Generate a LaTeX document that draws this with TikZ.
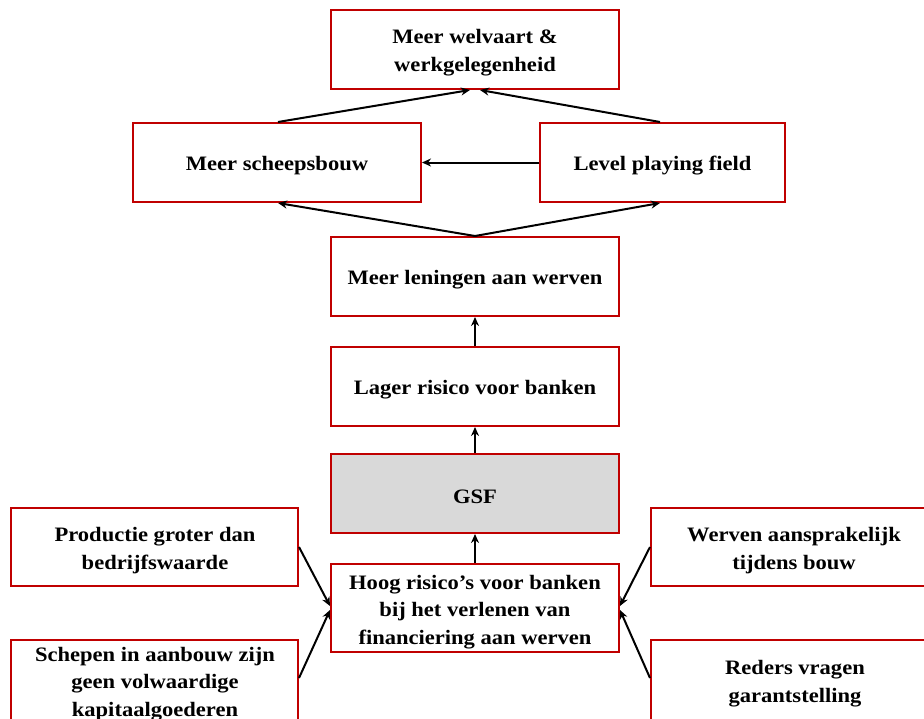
\documentclass[tikz,border=0pt]{standalone}
\usepackage{fontspec}
\setmainfont{Liberation Serif}[FakeStretch=1.1]
\usetikzlibrary{arrows.meta}
\definecolor{boxred}{HTML}{C00000}
\definecolor{boxgray}{HTML}{D9D9D9}
\begin{document}
\begin{tikzpicture}[x=1pt,y=-1pt,
  box/.style={draw=boxred,line width=2pt,fill=white,inner sep=0pt},
  txt/.style={font=\fontsize{20.5}{27.5}\selectfont\bfseries,align=center,inner sep=0pt},
  arr/.style={draw=black,line width=2pt,-{Stealth[length=9pt,width=8pt]}}]
\clip (0,0) rectangle (924,718);
\fill[white] (0,0) rectangle (924,718);
% boxes
\node[box,minimum width=288pt,minimum height=79pt] (top) at (475,49.5) {};
\node[txt] (toptxt) at (475,52.5) {Meer welvaart \&\\werkgelegenheid};
\node[box,minimum width=288pt,minimum height=79pt] (ship) at (277,162.5) {};
\node[txt] (shiptxt) at (277,165.5) {Meer scheepsbouw};
\node[box,minimum width=245pt,minimum height=79pt] (lpf) at (662.5,162.5) {};
\node[txt] (lpftxt) at (662.5,165.5) {Level playing field};
\node[box,minimum width=288pt,minimum height=79pt] (len) at (475,276.5) {};
\node[txt] (lentxt) at (475,279.5) {Meer leningen aan werven};
\node[box,minimum width=288pt,minimum height=79pt] (lag) at (475,386.5) {};
\node[txt] (lagtxt) at (475,389.5) {Lager risico voor banken};
\node[box,fill=boxgray,minimum width=288pt,minimum height=79pt] (gsf) at (475,493.5) {};
\node[txt] (gsftxt) at (475,496.5) {GSF};
\node[box,minimum width=288pt,minimum height=88pt] (hoog) at (475,608) {};
\node[txt] (hoogtxt) at (475,612) {Hoog risico’s voor banken\\bij het verlenen van\\financiering aan werven};
\node[box,minimum width=287pt,minimum height=78pt] (prod) at (154.5,547) {};
\node[txt] (prodtxt) at (155,550.5) {Productie groter dan\\bedrijfswaarde};
\node[box,minimum width=287pt,minimum height=100pt] (schep) at (154.5,690) {};
\node[txt] (scheptxt) at (155,684) {Schepen in aanbouw zijn\\geen volwaardige\\kapitaalgoederen};
\node[box,minimum width=290pt,minimum height=78pt] (werv) at (796,547) {};
\node[txt] (wervtxt) at (794,550.5) {Werven aansprakelijk\\tijdens bouw};
\node[box,minimum width=290pt,minimum height=100pt] (red) at (796,690) {};
\node[txt] (redtxt) at (795,683.5) {Reders vragen\\garantstelling};
% connectors
\coordinate (topL) at ([xshift=-5pt]top.south);
\coordinate (topR) at ([xshift=5pt]top.south);
\coordinate (shipT) at ([xshift=1pt]ship.north);
\coordinate (shipB) at ([xshift=1pt]ship.south);
\coordinate (lpfT) at ([xshift=-2.5pt]lpf.north);
\coordinate (lpfB) at ([xshift=-2.5pt]lpf.south);
\coordinate (hoogLa) at ([yshift=2pt]hoog.west);
\coordinate (hoogLb) at ([yshift=-2pt]hoog.west);
\coordinate (hoogRa) at ([yshift=2pt]hoog.east);
\coordinate (hoogRb) at ([yshift=-2pt]hoog.east);
\coordinate (schepR) at ([yshift=12pt]schep.east);
\coordinate (redL) at ([yshift=12pt]red.west);
\draw[arr] (shipT) -- (topL);
\draw[arr] (lpfT) -- (topR);
\draw[arr] (lpf.west) -- (ship.east);
\draw[arr] (len.north) -- (shipB);
\draw[arr] (len.north) -- (lpfB);
\draw[arr] (lag.north) -- (len.south);
\draw[arr] (gsf.north) -- (lag.south);
\draw[arr] (hoog.north) -- (gsf.south);
\draw[arr] (prod.east) -- (hoogLa);
\draw[arr] (schepR) -- (hoogLb);
\draw[arr] (werv.west) -- (hoogRa);
\draw[arr] (redL) -- (hoogRb);
\end{tikzpicture}
\end{document}
